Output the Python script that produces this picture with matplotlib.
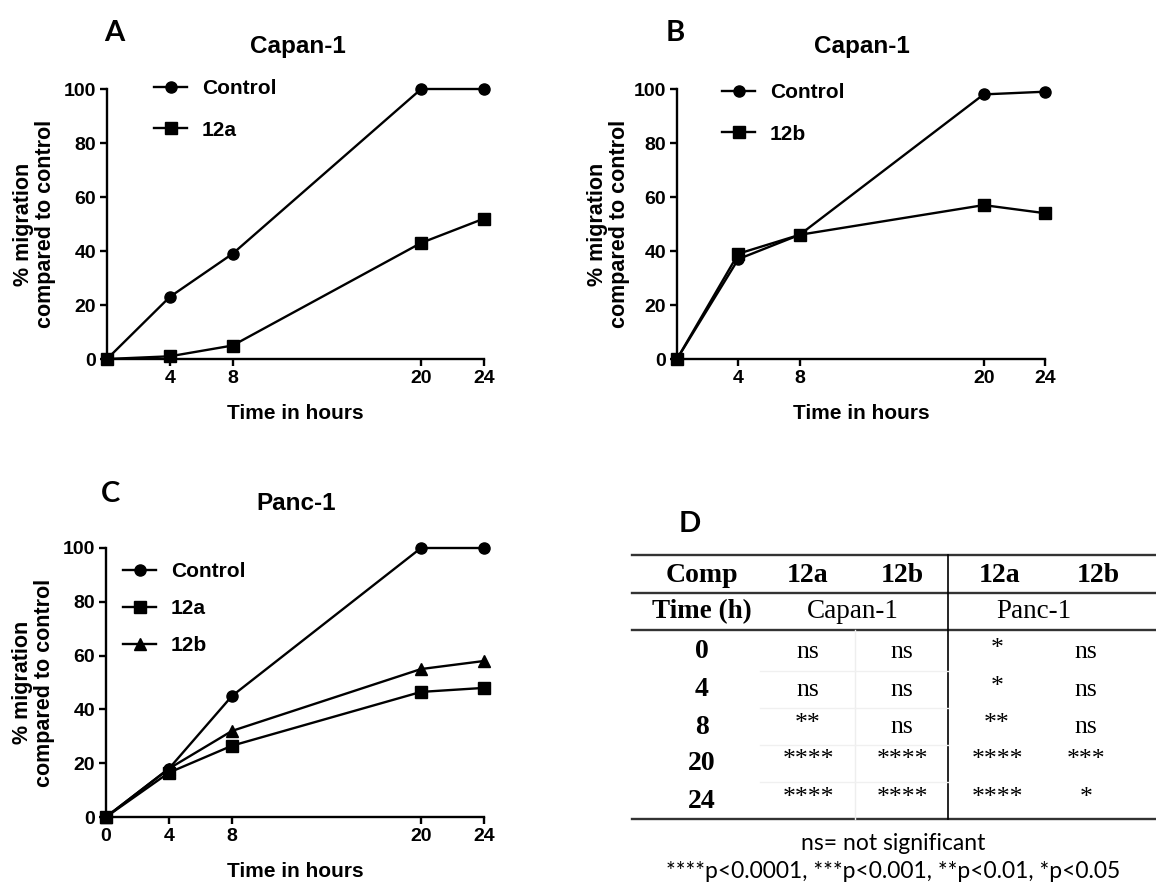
import matplotlib.pyplot as plt
from matplotlib.lines import Line2D

# data
hours = [0, 4, 8, 20, 24]

a_control = [0, 23, 39, 100, 100]
a_12a = [0, 1, 5, 43, 52]

b_control = [0, 37, 46, 98, 99]
b_12b = [0, 39, 46, 57, 54]

c_control = [0, 18, 45, 100, 100]
c_12a = [0, 16.5, 26.5, 46.5, 48]
c_12b = [0, 18, 32, 55, 58]

time_rows = ['0', '4', '8', '20', '24']
capan_12a = ['ns', 'ns', '**', '****', '****']
capan_12b = ['ns', 'ns', 'ns', '****', '****']
panc_12a = ['*', '*', '**', '****', '****']
panc_12b = ['ns', 'ns', 'ns', '***', '*']

W, H = 1156, 886
plt.rcParams['font.family'] = 'Liberation Sans'
plt.rcParams['font.weight'] = 'bold'

fig = plt.figure(figsize=(W / 100, H / 100), dpi=100)


def box(x0, y0, x1, y1):
    # pixel box -> figure fraction rect
    return [x0 / W, 1 - y1 / H, (x1 - x0) / W, (y1 - y0) / H]


def fpos(x, y):
    return x / W, 1 - y / H


def line_panel(rect, series, xticks, title, letter, letter_xy, title_xy,
               leg_xy, leg_space, ylab_x):
    ax = fig.add_axes(rect)
    for ys, mk, lab in series:
        ax.plot(hours, ys, color='black', lw=1.7, marker=mk, ms=8,
                clip_on=False, label=lab, zorder=3)
    ax.set_xlim(0, 24)
    ax.set_ylim(0, 100)
    ax.set_xticks(xticks)
    ax.set_yticks([0, 20, 40, 60, 80, 100])
    ax.spines['top'].set_visible(False)
    ax.spines['right'].set_visible(False)
    for s in ['left', 'bottom']:
        ax.spines[s].set_linewidth(1.7)
    ax.tick_params(width=1.7, length=5, labelsize=14, pad=3)
    for t in ax.get_xticklabels() + ax.get_yticklabels():
        t.set_fontweight('bold')
    ax.set_xlabel('Time in hours', fontsize=15, fontweight='bold',
                  labelpad=12)
    ax.set_ylabel('% migration\ncompared to control', fontsize=15.5,
                  fontweight='bold', linespacing=1.05)
    ax.yaxis.set_label_coords(ylab_x, 0.5)
    fig.text(*fpos(*title_xy), title, fontsize=17.5, fontweight='bold',
             ha='center', va='center')
    fig.text(*fpos(*letter_xy), letter, fontsize=21, fontweight='bold',
             family='Lato', ha='center', va='center')
    leg = ax.legend(loc='upper left', bbox_to_anchor=fpos(*leg_xy),
                    bbox_transform=fig.transFigure, frameon=False,
                    fontsize=15, handlelength=1.6, handletextpad=0.7,
                    labelspacing=leg_space, borderpad=0, borderaxespad=0)
    for t in leg.get_texts():
        t.set_fontweight('bold')
    return ax


line_panel(box(107, 89, 484, 359),
           [(a_control, 'o', 'Control'), (a_12a, 's', '12a')],
           [4, 8, 20, 24], 'Capan-1', 'A', (114, 33), (298, 47),
           (154, 79), 1.08, -0.135)

line_panel(box(677, 89, 1045, 359),
           [(b_control, 'o', 'Control'), (b_12b, 's', '12b')],
           [4, 8, 20, 24], 'Capan-1', 'B', (675, 33), (862, 47),
           (722, 83), 1.08, -0.128)

line_panel(box(106, 548, 484, 817),
           [(c_control, 'o', 'Control'), (c_12a, 's', '12a'),
            (c_12b, '^', '12b')],
           [0, 4, 8, 20, 24], 'Panc-1', 'C', (111, 494), (296, 503),
           (123, 562), 0.87, -0.135)

# panel D: significance table
fig.text(*fpos(690, 524), 'D', fontsize=21, fontweight='bold',
         family='Lato', ha='center', va='center')

left, right = 632, 1156
y_top, y_head, y_sub, y_bot = 555, 593, 630, 819
col_div = 948
for y in [y_top, y_head, y_sub, y_bot]:
    fig.add_artist(Line2D([left / W, right / W], [1 - y / H, 1 - y / H],
                          color='#333333', lw=1.7))
fig.add_artist(Line2D([col_div / W, col_div / W],
                      [1 - y_top / H, 1 - y_bot / H], color='black', lw=1.2))
# faint inner grid
fig.add_artist(Line2D([855 / W, 855 / W], [1 - y_sub / H, 1 - y_bot / H],
                      color='#eeeeee', lw=1.0))
row_y = [652, 690, 727, 763, 801]
for yb in [671, 708, 745, 782]:
    fig.add_artist(Line2D([760 / W, col_div / W], [1 - yb / H, 1 - yb / H],
                          color='#f0f0f0', lw=1.0))

serif = 'Liberation Serif'
head_x = [702, 808, 902, 1000, 1098]
for x, s in zip(head_x, ['Comp', '12a', '12b', '12a', '12b']):
    fig.text(*fpos(x, 575), s, family=serif, fontsize=20, fontweight='bold',
             ha='center', va='center')
fig.text(*fpos(702, 612), 'Time (h)', family=serif, fontsize=19.5,
         fontweight='bold', ha='center', va='center')
fig.text(*fpos(853, 612), 'Capan-1', family=serif, fontsize=19.5,
         fontweight='normal', ha='center', va='center')
fig.text(*fpos(1034, 612), 'Panc-1', family=serif, fontsize=19.5,
         fontweight='normal', ha='center', va='center')

col_x = [808, 902, 997, 1086]
for i, y in enumerate(row_y):
    fig.text(*fpos(702, y), time_rows[i], family=serif, fontsize=20,
             fontweight='bold', ha='center', va='center')
    for x, col in zip(col_x, [capan_12a, capan_12b, panc_12a, panc_12b]):
        s = col[i]
        yy = y - 3 if s.startswith('*') else y
        fig.text(*fpos(x, yy), s, family=serif, fontsize=18.5,
                 fontweight='normal', ha='center', va='center')

fig.text(*fpos(893, 843), 'ns= not significant', family='Lato',
         fontsize=16.5, fontweight='normal', ha='center', va='center')
fig.text(*fpos(893, 871), '****p<0.0001, ***p<0.001, **p<0.01, *p<0.05',
         family='Lato', fontsize=16.5, fontweight='normal', ha='center',
         va='center')

plt.savefig('out.png', dpi=100)
